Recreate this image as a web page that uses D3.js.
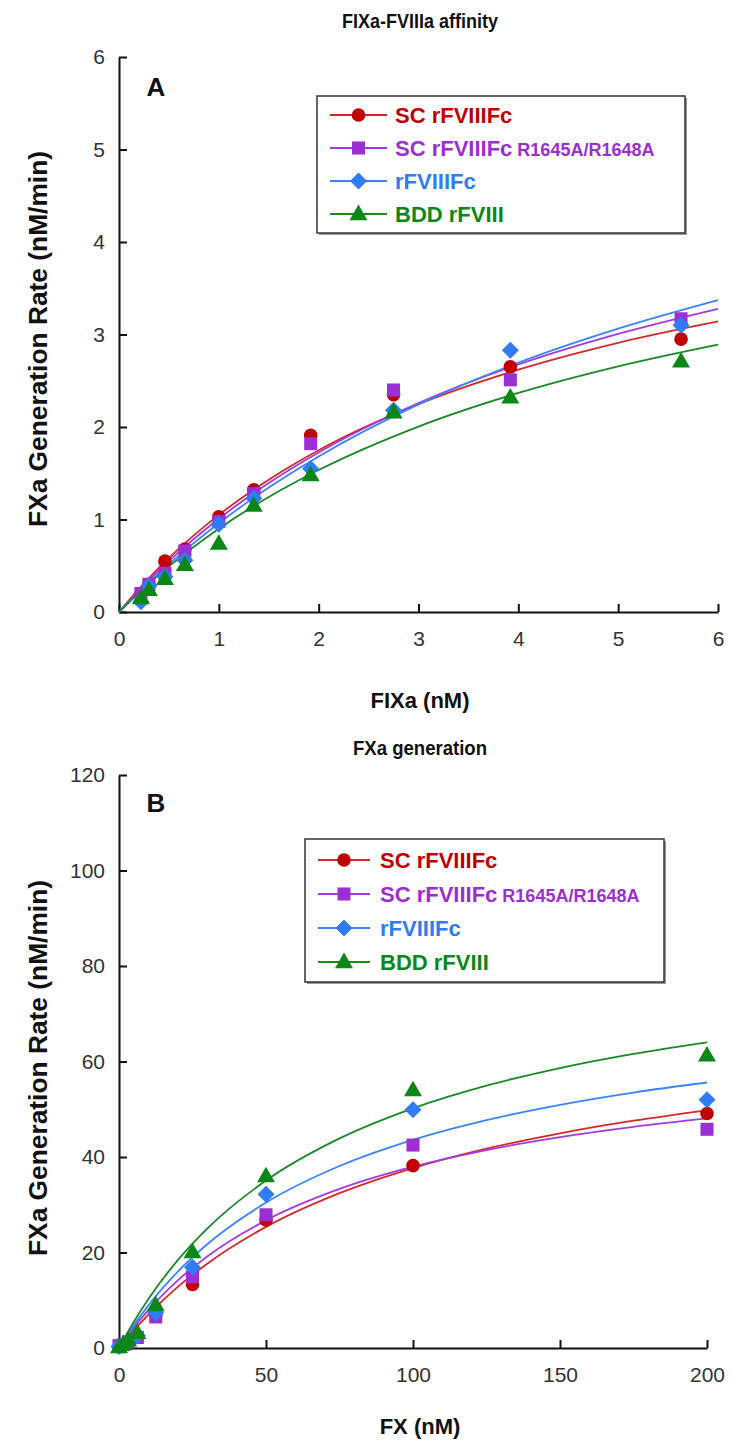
<!DOCTYPE html>
<html>
<head>
<meta charset="utf-8">
<script src="https://cdn.jsdelivr.net/npm/d3@7"></script>
<style>
  body { margin: 0; background: #fff; }
  svg { display: block; font-family: "Liberation Sans", Arial, sans-serif; }
</style>
</head>
<body>
<svg></svg>
<script>
var svgWidth = 732;
var svgHeight = 1455;

var svg = d3.select('svg')
            .attr('width', svgWidth)
            .attr('height', svgHeight)
            .style('background', '#fff');

/* legend names, one per series */
var seriesNames = ['SC rFVIIIFc', 'SC rFVIIIFc', 'rFVIIIFc', 'BDD rFVIII'];
var seriesSuffix = ['', 'R1645A/R1648A', '', ''];
var seriesColors = ['#c00000', '#9b2fd3', '#2f7cf5', '#0b8716'];
var curveColors = ['#d42a2a', '#a43ae0', '#3b86f7', '#1a8a26'];
var seriesSymbols = ['circle', 'square', 'diamond', 'triangle'];

/* panel A: FIXa affinity */
var ticksAx = [0, 1, 2, 3, 4, 5, 6];
var ticksAy = [0, 1, 2, 3, 4, 5, 6];
var fixaConc = [0.22, 0.30, 0.46, 0.66, 1.00, 1.35, 1.92, 2.75, 3.92, 5.63];
var rateA_sc = [0.20, 0.30, 0.55, 0.68, 1.03, 1.32, 1.91, 2.35, 2.65, 2.95];
var rateA_mut = [0.20, 0.30, 0.42, 0.66, 0.98, 1.28, 1.82, 2.40, 2.51, 3.17];
var rateA_fc = [0.11, 0.28, 0.38, 0.56, 0.95, 1.23, 1.55, 2.18, 2.83, 3.10];
var rateA_bdd = [0.15, 0.24, 0.36, 0.51, 0.74, 1.15, 1.48, 2.16, 2.32, 2.71];

/* panel A fitted curves */
var fitAx = [0, 0.25, 0.5, 1, 1.5, 2, 3, 4, 5, 6];
var fitA_sc = [0, 0.309, 0.584, 1.050, 1.431, 1.749, 2.247, 2.620, 2.910, 3.141];
var fitA_mut = [0, 0.289, 0.551, 1.008, 1.395, 1.725, 2.260, 2.676, 3.007, 3.278];
var fitA_fc = [0, 0.269, 0.517, 0.960, 1.345, 1.682, 2.244, 2.695, 3.063, 3.371];
var fitA_bdd = [0, 0.259, 0.493, 0.901, 1.243, 1.535, 2.005, 2.368, 2.656, 2.891];

/* panel B: FXa generation */
var ticksBx = [0, 50, 100, 150, 200];
var ticksBy = [0, 20, 40, 60, 80, 100, 120];
var fxConc = [0, 1.56, 3.13, 6.25, 12.5, 25, 50, 100, 200];
var rateB_sc = [0.2, 0.6, 1.2, 2.4, 7.0, 13.3, 26.8, 38.2, 49.1];
var rateB_mut = [0.5, 0.7, 1.3, 2.2, 6.5, 14.9, 27.9, 42.5, 45.8];
var rateB_fc = [0.3, 0.6, 1.3, 2.6, 7.4, 16.9, 32.2, 49.9, 52.0];
var rateB_bdd = [0.2, 0.8, 1.6, 3.2, 9.0, 20.1, 36.0, 54.0, 61.3];

var fitBx = [0, 5, 10, 20, 30, 50, 75, 100, 125, 150, 175, 200];
var fitB_sc = [0, 3.68, 7.01, 12.80, 17.66, 25.36, 32.43, 37.69, 41.74, 44.97, 47.60, 49.78];
var fitB_mut = [0, 4.23, 7.94, 14.16, 19.17, 26.73, 33.31, 37.97, 41.46, 44.16, 46.31, 48.07];
var fitB_fc = [0, 4.74, 8.93, 16.00, 21.73, 30.46, 38.12, 43.60, 47.72, 50.93, 53.50, 55.60];
var fitB_bdd = [0, 5.46, 10.28, 18.41, 25.01, 35.07, 43.89, 50.20, 54.94, 58.63, 61.59, 64.01];

/* Panel setup */
var panels = [
    {
        letter: 'A', title: 'FIXa-FVIIIa affinity', titleW: 156, xLabel: 'FIXa (nM)',
        x: d3.scaleLinear().domain([0, 6]).range([119, 718]),
        y: d3.scaleLinear().domain([0, 6]).range([612, 57]),
        xTicks: ticksAx, yTicks: ticksAy,
        pts: fixaConc, rates: [rateA_sc, rateA_mut, rateA_fc, rateA_bdd],
        fitX: fitAx, fits: [fitA_sc, fitA_mut, fitA_fc, fitA_bdd],
        titleY: 28, letterPos: [156, 96], xLabelY: 708, yLabelC: 339,
        legend: {x: 317, y: 96, w: 368, h: 137, rowY: 19, dy: 33, lineX: 13, lineW: 57, textX: 78}
    },
    {
        letter: 'B', title: 'FXa generation', titleW: 134, xLabel: 'FX (nM)',
        x: d3.scaleLinear().domain([0, 200]).range([119, 707]),
        y: d3.scaleLinear().domain([0, 120]).range([1348, 775]),
        xTicks: ticksBx, yTicks: ticksBy,
        pts: fxConc, rates: [rateB_sc, rateB_mut, rateB_fc, rateB_bdd],
        fitX: fitBx, fits: [fitB_sc, fitB_mut, fitB_fc, fitB_bdd],
        titleY: 755, letterPos: [156, 812], xLabelY: 1434, yLabelC: 1068,
        legend: {x: 305, y: 839, w: 359, h: 143, rowY: 21, dy: 34, lineX: 13, lineW: 52, textX: 75}
    }
];

/* d3 symbol path by name */
function symbolPath(name){
    if(name === 'circle') return d3.symbol(d3.symbolCircle, 145)();
    if(name === 'square') return d3.symbol(d3.symbolSquare, 170)();
    if(name === 'diamond') return d3.symbol(d3.symbolSquare, 145)();
    return d3.symbol(d3.symbolTriangle, 140)();
}

function markerTransform(name, x, y){
    var t = `translate(${x},${y})`;
    if(name === 'diamond') t += ' rotate(45)';
    if(name === 'triangle') t += ' translate(0,1)';
    return t;
}

/* Draw one panel */
function drawPanel(p){
    var g = svg.append('g');

    // axes
    var xAxis = d3.axisBottom(p.x).tickValues(p.xTicks).tickFormat(d => d)
                  .tickSize(-8).tickSizeOuter(0).tickPadding(19);
    var yAxis = d3.axisLeft(p.y).tickValues(p.yTicks).tickFormat(d => d)
                  .tickSize(-8).tickSizeOuter(0).tickPadding(14);

    var gx = g.append('g').attr('transform', `translate(0,${p.y.range()[0]})`).call(xAxis);
    var gy = g.append('g').attr('transform', `translate(${p.x.range()[0]},0)`).call(yAxis);

    [gx, gy].forEach(a => {
        a.select('.domain').attr('stroke', '#111').attr('stroke-width', 2);
        a.selectAll('.tick line').attr('stroke', '#111').attr('stroke-width', 2);
        a.selectAll('.tick text').attr('fill', '#333').style('font-size', '21px')
            .style('font-family', '"Liberation Sans", Arial, sans-serif');
    });

    // fitted curves
    var line = d3.line()
                 .x((d, i) => p.x(p.fitX[i]))
                 .y(d => p.y(d))
                 .curve(d3.curveMonotoneX);
    p.fits.forEach((f, k) => {
        g.append('path')
         .attr('d', line(f))
         .attr('fill', 'none')
         .attr('stroke', curveColors[k])
         .attr('stroke-width', 1.8);
    });

    // data markers
    p.rates.forEach((r, k) => {
        g.selectAll(`path.pt-${k}`)
         .data(r)
         .enter()
         .append('path')
         .attr('class', `pt-${k}`)
         .attr('d', symbolPath(seriesSymbols[k]))
         .attr('transform', (d, i) => markerTransform(seriesSymbols[k], p.x(p.pts[i]), p.y(d)))
         .attr('fill', seriesColors[k]);
    });

    // texts
    g.append('text').text(p.title)
     .attr('x', 420).attr('y', p.titleY)
     .attr('text-anchor', 'middle')
     .attr('textLength', p.titleW).attr('lengthAdjust', 'spacingAndGlyphs')
     .style('font-weight', 'bold').style('font-size', '21px').attr('fill', '#111');

    g.append('text').text(p.letter)
     .attr('x', p.letterPos[0]).attr('y', p.letterPos[1])
     .attr('text-anchor', 'middle')
     .style('font-weight', 'bold').style('font-size', '26px').attr('fill', '#111');

    g.append('text').text(p.xLabel)
     .attr('x', 420).attr('y', p.xLabelY)
     .attr('text-anchor', 'middle')
     .style('font-weight', 'bold').style('font-size', '22px').attr('fill', '#111');

    g.append('text').text('FXa Generation Rate (nM/min)')
     .attr('transform', `translate(47,${p.yLabelC}) rotate(-90)`)
     .attr('text-anchor', 'middle')
     .attr('textLength', 376).attr('lengthAdjust', 'spacingAndGlyphs')
     .style('font-weight', 'bold').style('font-size', '25px').attr('fill', '#111');

    drawLegend(g, p.legend);
}

/* Legend box with line + marker samples */
function drawLegend(g, L){
    g.append('rect')
     .attr('x', L.x + 2).attr('y', L.y + 2).attr('width', L.w).attr('height', L.h)
     .attr('fill', '#999');
    g.append('rect')
     .attr('x', L.x).attr('y', L.y).attr('width', L.w).attr('height', L.h)
     .attr('fill', '#fff').attr('stroke', '#333').attr('stroke-width', 1.5);

    seriesNames.forEach((name, k) => {
        var cy = L.y + L.rowY + k * L.dy;
        var x1 = L.x + L.lineX;
        var x2 = x1 + L.lineW;
        g.append('line')
         .attr('x1', x1).attr('x2', x2).attr('y1', cy).attr('y2', cy)
         .attr('stroke', curveColors[k]).attr('stroke-width', 1.8);
        g.append('path')
         .attr('d', symbolPath(seriesSymbols[k]))
         .attr('transform', markerTransform(seriesSymbols[k], (x1 + x2) / 2, cy))
         .attr('fill', seriesColors[k]);
        var t = g.append('text')
                 .attr('x', L.x + L.textX).attr('y', cy + 8)
                 .attr('fill', seriesColors[k])
                 .style('font-weight', 'bold').style('font-size', '22px')
                 .text(name);
        if(seriesSuffix[k]){
            t.append('tspan').text(' ' + seriesSuffix[k])
             .style('font-size', '18px');
        }
    });
}

panels.forEach(p => drawPanel(p));
</script>
</body>
</html>
